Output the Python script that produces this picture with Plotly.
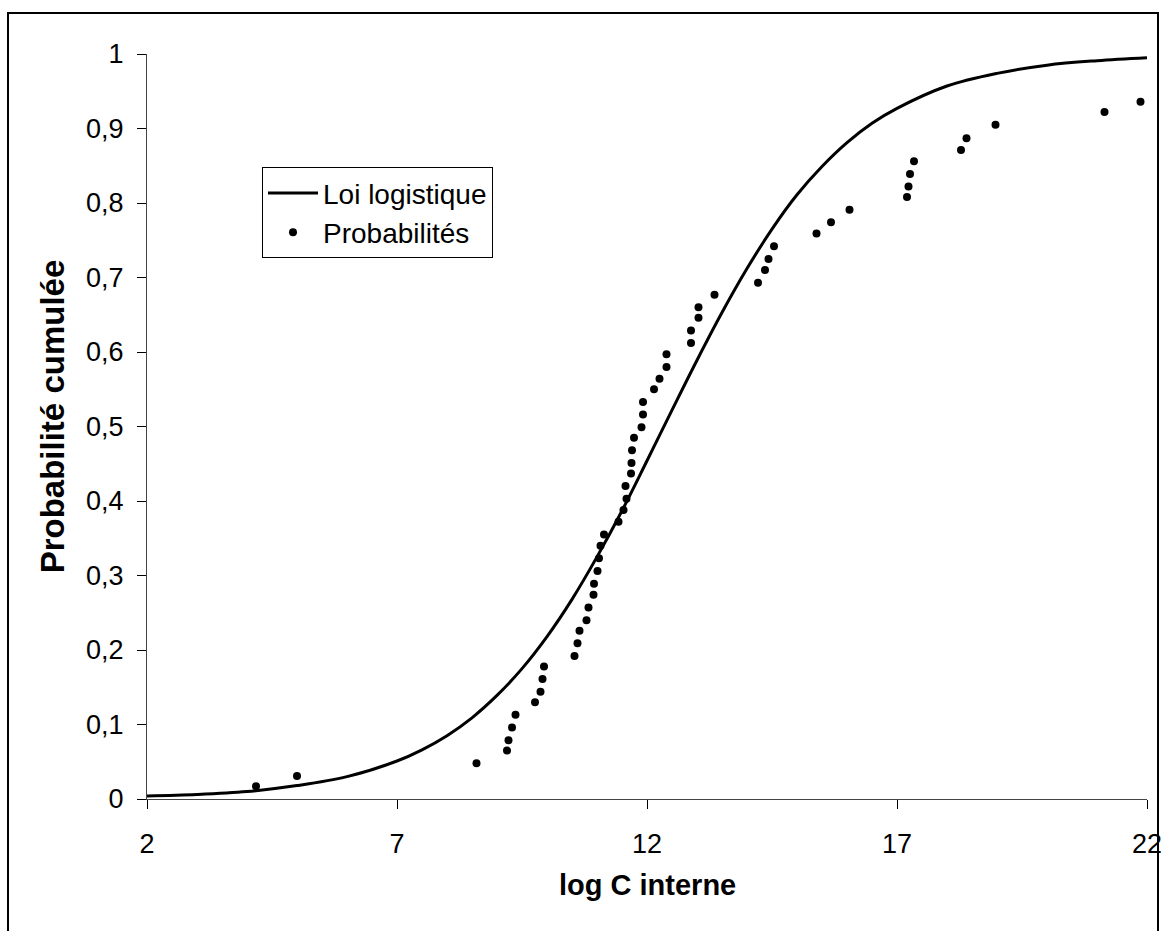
import plotly.graph_objects as go

prob_x = [4.18, 5.00, 8.59, 9.20, 9.23, 9.30, 9.37, 9.76, 9.87, 9.91, 9.94,
          10.55, 10.61, 10.65, 10.79, 10.83, 10.93, 10.94, 11.01, 11.04, 11.07,
          11.14, 11.43, 11.53, 11.59, 11.57, 11.68, 11.69, 11.70, 11.74, 11.89,
          11.92, 11.92, 12.14, 12.25, 12.39, 12.39, 12.88, 12.88, 13.03, 13.03,
          13.35, 14.22, 14.36, 14.43, 14.54, 15.39, 15.68, 16.05, 17.20, 17.23,
          17.26, 17.34, 18.28, 18.39, 18.97, 21.15, 21.87]
prob_y = [0.017, 0.031, 0.048, 0.065, 0.079, 0.096, 0.113, 0.130, 0.144, 0.161, 0.178,
          0.192, 0.209, 0.226, 0.240, 0.257, 0.274, 0.289, 0.306, 0.323, 0.340,
          0.355, 0.372, 0.388, 0.403, 0.420, 0.437, 0.451, 0.468, 0.485, 0.499,
          0.516, 0.533, 0.550, 0.564, 0.580, 0.597, 0.612, 0.629, 0.646, 0.660,
          0.677, 0.693, 0.710, 0.725, 0.742, 0.759, 0.774, 0.791, 0.808, 0.822,
          0.839, 0.856, 0.871, 0.887, 0.905, 0.922, 0.936]

# Logistic law curve
logi_x = [2, 3, 4, 5, 6, 7, 7.5, 8, 8.5, 9, 9.5, 10, 10.5, 11, 11.5, 12, 12.5,
          13, 13.5, 14, 14.5, 15, 15.5, 16, 16.5, 17, 18, 19, 20, 21, 22]
logi_y = [0.004, 0.006, 0.010, 0.018, 0.030, 0.051, 0.066, 0.085, 0.109, 0.139,
          0.175, 0.218, 0.268, 0.325, 0.387, 0.454, 0.522, 0.589, 0.653, 0.712,
          0.765, 0.811, 0.849, 0.881, 0.907, 0.927, 0.957, 0.974, 0.985, 0.991, 0.995]

x_ticks = [2, 7, 12, 17, 22]
x_ticktext = ["2", "7", "12", "17", "22"]
y_ticks = [0, 0.1, 0.2, 0.3, 0.4, 0.5, 0.6, 0.7, 0.8, 0.9, 1]
y_ticktext = ["0", "0,1", "0,2", "0,3", "0,4", "0,5", "0,6", "0,7", "0,8", "0,9", "1"]

FONT = "Liberation Sans, Arial, sans-serif"

fig = go.Figure()
fig.add_trace(go.Scatter(x=logi_x, y=logi_y, mode="lines", name="Loi logistique",
                         line=dict(color="black", width=3, shape="spline"),
                         cliponaxis=False))
fig.add_trace(go.Scatter(x=prob_x, y=prob_y, mode="markers", name="Probabilités",
                         marker=dict(color="black", size=8), cliponaxis=False))

axis_common = dict(showgrid=False, zeroline=False, showline=True, linecolor="#444",
                   linewidth=1, ticks="outside", ticklen=9, tickcolor="black",
                   tickwidth=1, ticklabeloverflow="allow", automargin=False,
                   tickfont=dict(family=FONT, size=27, color="black"))

fig.update_xaxes(range=[2, 22], tickvals=x_ticks, ticktext=x_ticktext,
                 ticklabelstandoff=12, **axis_common)
fig.update_yaxes(range=[0, 1], tickvals=y_ticks, ticktext=y_ticktext,
                 ticklabelstandoff=8, **axis_common)

fig.update_layout(
    width=1162, height=931, autosize=False,
    margin=dict(l=147, r=15, t=54, b=132, autoexpand=False),
    plot_bgcolor="white", paper_bgcolor="white",
    showlegend=True,
    legend=dict(x=0.115, y=0.848, xanchor="left", yanchor="top",
                bordercolor="black", borderwidth=1, bgcolor="white",
                font=dict(family=FONT, size=28, color="black"),
                itemwidth=50, tracegroupgap=0),
    shapes=[dict(type="rect", xref="paper", yref="paper",
                 x0=-0.139, x1=1.011, y0=-0.2, y1=1.055,
                 line=dict(color="black", width=2))],
    annotations=[
        dict(text="<b>Probabilité cumulée</b>", xref="paper", yref="paper",
             x=-0.0945, y=0.513, xanchor="center", yanchor="middle",
             textangle=-90, showarrow=False,
             font=dict(family=FONT, size=33, color="black")),
        dict(text="<b>log C interne</b>", xref="paper", yref="paper",
             x=0.5, y=-0.1154, xanchor="center", yanchor="middle", showarrow=False,
             font=dict(family=FONT, size=29, color="black")),
    ],
)

fig.write_html("out.html", config={"displayModeBar": False, "responsive": False},
               post_script="document.body.style.margin='0';document.body.style.overflow='hidden';")
